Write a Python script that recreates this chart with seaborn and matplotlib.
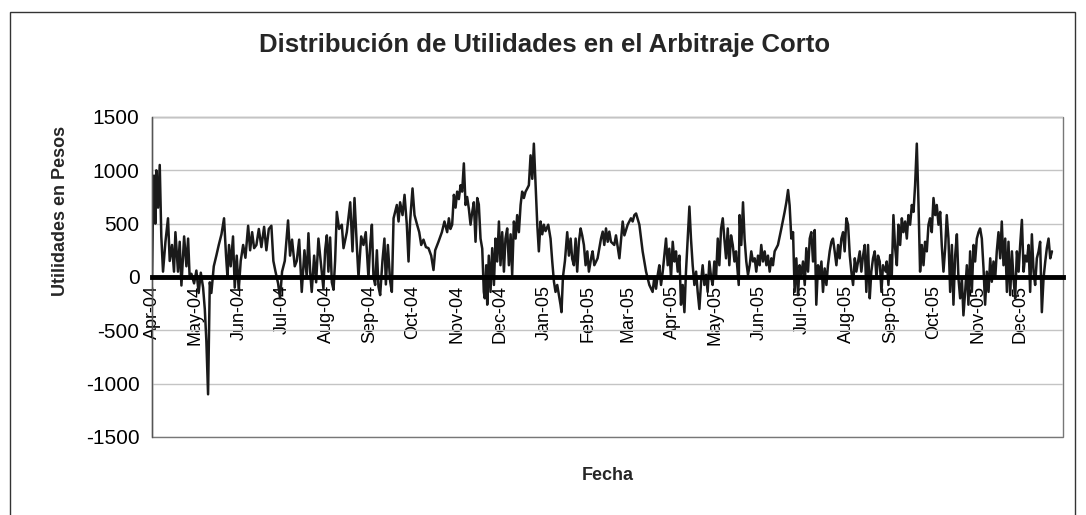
import matplotlib
matplotlib.use("Agg")
import matplotlib.pyplot as plt
import matplotlib.dates as mdates
from matplotlib.patches import Rectangle
import seaborn as sns
import pandas as pd

inicio = pd.Timestamp("2004-04-01")
fin = pd.Timestamp("2005-12-31")

# dias desde el 1-abr-2004
dias = [
    # abr - jul 2004
    0, 0.7, 1.4, 2.3, 3, 4.2, 5.4, 6.5, 7.7, 9.4, 11.2, 12.4, 14, 15.4, 16.4, 18.2, 19.4, 20.6,
    22.5, 24.1, 25.3, 26.4, 27.6, 29.5, 31.1, 32.7, 34.2, 35.8, 37, 38.1, 39.3, 40.5, 41.6, 43.3,
    45.1, 46.8, 48.7, 50.5, 51.9, 52.9, 54, 55.2, 56.8, 58, 59.4, 60.8, 62.2, 63.9, 65.5, 67.4,
    68.8, 70.2, 71.6, 73.2, 74.9, 76.7, 78.6, 80.2, 81.9, 83.7, 85.1, 86.6, 88.4, 89.8, 91.2,
    93.1, 95.4, 96.8, 98.2, 100.1,
    # jul - oct 2004
    101.5, 103.2, 105, 106.9, 108.5, 109.7, 110.9, 112, 113.7, 115.1, 116.7, 118.6, 120.2, 121.4,
    122.6, 123.7, 124.9, 126.1, 127.3, 128.4, 129.6, 131.2, 133.1, 134.3, 136.6, 139, 140.6, 142,
    143.6, 144.8, 146.7, 148.3, 149.9, 151.8, 153, 154.2, 155.3, 156.5, 157.7, 158.8, 160, 161.6,
    163, 164, 165.4, 167, 168.2, 169.4, 171.7, 172.9, 174, 175.7, 177.1, 178.7, 179.9, 181, 182.7,
    184.1, 185.7, 187.4, 188.8, 190.4, 192.1, 193.9, 195.8, 197.4, 198.6, 200.9, 203.3, 205.1,
    # oct 2004 - feb 2005
    207, 208.2, 209.3, 210.5, 211.7, 212.9, 214, 215.2, 216.4, 217.5, 218.7, 219.9, 221, 222.2,
    223.4, 224.6, 225.7, 226.9, 228.1, 229.2, 230.4, 231.6, 232.7, 233.4, 234.4, 235.1, 236.2,
    237.4, 238.6, 239.8, 240.9, 242.1, 243.3, 244.4, 245.6, 246.8, 247.9, 249.1, 250.3, 251.5,
    252.6, 253.8, 255, 256.1, 257.3, 258.5, 259.6, 260.8, 262, 263.2, 264.3, 265.5, 266.7, 267.8,
    269, 270.2, 271.3, 272.5, 273.7, 274.8, 276, 277.9, 279.5, 280.7, 281.9, 283, 284.2, 285.4,
    286.5, 287.2, 288.2, 289.6, 291.2, 292.4, 293.6, 294.7, 295.9, 297.1, 298.2, 299.4, 300.6,
    301.7, 302.9, 304.1, 305.3, 306.4, 308.3,
    # feb - may 2005
    309, 310.2, 312.5, 314.9, 316.1, 317.2, 318.4, 319.6, 320.7, 321.9, 324.2, 325.4, 327.8, 330.1,
    331.3, 333.6, 335.9, 337.1, 338.3, 339.5, 341.8, 344.1, 346.5, 348.8, 351.1, 352.3, 353.5,
    354.7, 355.8, 357, 358.2, 360.5, 361.7, 362.8, 364, 365.2, 366.4, 367.5, 368.7, 369.9, 371,
    372.2, 373.4, 374.5, 375.7, 376.9, 378, 379.2, 380.4, 381.6, 382.7, 383.9, 385.1, 386.2, 387.4,
    388.6, 389.7, 390.9, 392.1, 393.2, 394.4, 395.6, 396.8, 397.9, 399.1, 400.3, 401.4, 402.6,
    403.8, 404.9, 406.1, 407.3, 408.5, 409.6, 411.5,
    # may - ago 2005
    412.1, 413.3, 414.5, 415.6, 416.8, 418, 419.2, 420.3, 421.5, 422.7, 423.8, 425, 426.2, 427.3,
    428.5, 429.7, 430.9, 432, 433.2, 434.4, 435.5, 436.7, 439, 441.4, 443.7, 444.9, 446.1, 447.2,
    448.4, 449.6, 450.7, 451.9, 453.1, 454.2, 455.4, 456.6, 457.8, 458.9, 460.1, 461.3, 462.4,
    463.6, 464.8, 465.9, 467.1, 468.3, 469.5, 470.6, 471.8, 473, 474.1, 475.3, 476.5, 477.6, 478.8,
    480, 481.2, 482.3, 483.5, 484.7, 485.8, 487, 488.2, 489.4, 490.5, 491.7, 492.9, 494, 495.2,
    496.4, 497.5, 498.7, 499.9, 501, 502.2, 503.4, 504.5, 505.7, 506.9, 508.1, 509.2, 510.4,
    511.6, 512.7, 514.6,
    # ago - dic 2005
    515.3, 516.5, 517.7, 518.8, 520, 521.2, 522.4, 523.5, 524.7, 525.9, 527, 528.2, 529.4, 530.5,
    531.7, 532.9, 534.1, 535.2, 536.4, 537.6, 538.7, 539.9, 541.1, 542.2, 543.4, 544.6, 545.7,
    546.9, 548.1, 549.3, 550.4, 551.6, 552.8, 553.9, 555.1, 556.3, 557.4, 558.6, 559.8, 561, 562.1,
    563.3, 564.5, 565.6, 566.8, 568, 569.1, 570.3, 571.5, 572.6, 573.8, 575, 576.2, 577.3, 578.5,
    579.7, 580.8, 582, 583.2, 584.3, 585.5, 586.7, 587.9, 589, 590.2, 591.4, 592.5, 593.7, 594.9,
    596, 597.2, 598.4, 599.6, 600.7, 601.9, 603.1, 604.2, 605.4, 606.6, 607.8, 608.9, 610.1,
    611.3, 612.4, 613.6, 614.8, 615.9, 617.1, 618.3, 619.4, 620.6, 621.8, 622.9, 624.1, 625.3,
    626.5, 627.6, 628.8, 630, 631.2,
]

# utilidades en pesos, una por cada dia de arriba
utilidad = [
    # abr - jul 2004
    0, 700, 950, 500, 1000, 650, 1050, 380, 50, 330, 550, 150, 300, 50, 420, 50, 330, -80,
    380, 100, 360, -10, 30, -60, 60, -150, 40, -100, -300, -600, -1100, -50, -150, 100,
    200, 300, 400, 550, 200, 0, 300, 100, 380, -100, 200, -120, 150, 300, 180, 480,
    250, 420, 270, 300, 450, 280, 470, 250, 450, 480, 150, 50, -60, -200, 50,
    150, 530, 200, 350, 100,
    # jul - oct 2004
    150, 350, -140, 250, 0, 410, 50, -140, 200, -50, 360, 100, -110, 250,
    390, 50, 370, -50, -120, 150, 610, 450, 490, 270, 420, 700, 240, 740,
    300, 0, 380, 300, 420, -10, 300, 490, 0, -75, 250, -90, -170, 150,
    360, -70, 300, -40, -140, 550, 675, 520, 700, 580, 770, 490, 145, 520, 830,
    580, 500, 420, 300, 350, 280, 270, 200, 65, 250, 330, 420, 520,
    # oct 2004 - feb 2005
    420, 550, 450, 490, 770, 650, 800, 730, 860, 800, 1065, 675, 750, 640,
    490, 610, 700, 330, 740, 680, 360, 265, -140, -200, 110, -260, 200,
    -140, 270, -75, 360, 145, 520, 110, 420, 50, 360, 455, 110, 400,
    20, 520, 360, 580, 420, 675, 800, 740, 800, 830, 860, 1140, 920, 1250,
    860, 490, 240, 520, 400, 490, 430, 490, 360, 145, -45, -140, -75, -170,
    -260, -330, 0, 150, 420, 200, 360, 170, 110, 360, 50, 330, 455,
    390, 300, 110, 240, 50, 200,
    # feb - may 2005
    240, 110, 175, 360, 425, 300, 455, 330, 425, 330, 300, 390, 175, 520,
    390, 490, 550, 520, 580, 595, 490, 240, 50, -75, -140, 0, -110,
    20, 110, -75, 50, 360, 110, 265, -10, 330, 145, 240, 50, 200, -260,
    -75, -330, 50, 360, 660, 360, 110, -75, 50, -140, -300, -45, 110, -75,
    20, -140, 145, 0, -75, 145, 0, 360, 110, 450, 550, 360, 175,
    455, 110, 390, 300, 145, 240, -75,
    # may - ago 2005
    580, 300, 700, 360, 145, 20, 110, 240, 145, 175, 50, 200, 110, 300,
    145, 240, 110, 200, 50, 175, 110, 240, 300, 455, 610, 700, 815, 670,
    360, 420, -140, 175, -170, 110, 20, 145, -75, 270, 50, 360, 420,
    145, 440, -260, 110, -10, 145, -140, 80, -75, 110, 240, 330, 360, 240,
    110, 300, 175, 360, 420, 240, 550, 490, 200, 50, -75, 175, 50, 145,
    240, 50, 200, 300, -140, 300, -200, 50, 175, 240, -10, 200, 145,
    -140, 110, 50,
    # ago - dic 2005
    145, -75, 205, -10, 580, 270, 110, 490, 300, 550, 420, 520, 360, 580,
    490, 675, 610, 860, 1250, 675, 50, 300, 110, 330, 240, 490, 550,
    420, 740, 580, 675, 490, 610, 300, 50, 270, 580, 360, -140, 300, -260,
    200, 400, -10, -200, -10, -360, -140, 110, -260, 240, -140, 300, 145, 360,
    420, 455, 360, 80, -260, 50, -140, 175, -45, 145, -10, 240, 420, 175,
    520, 110, 360, -140, 330, -170, 240, -10, -200, 240, 50, 300, 535,
    50, 200, 145, 300, -140, 400, 50, -75, 175, 240, 330, -330, -10,
    145, 270, 360, 175, 240,
]

valores_y = [-1500, -1000, -500, 0, 500, 1000, 1500]

df = pd.DataFrame({
    "fecha": inicio + pd.to_timedelta(dias, unit="D"),
    "utilidad": utilidad,
})

sns.set_theme(style="white")
plt.rcParams["font.family"] = ["Liberation Sans", "DejaVu Sans"]
plt.rcParams["axes.unicode_minus"] = False

fig = plt.figure(figsize=(10.86, 5.15), dpi=100)
ax = fig.add_axes([0.14, 0.1515, 0.8389, 0.6214])

sns.lineplot(data=df, x="fecha", y="utilidad", ax=ax, color="#1a1a1a",
             lw=1.8, estimator=None)

ax.set_ylim(-1500, 1500)
ax.set_yticks(valores_y)
ax.set_xlim(inicio, fin)
ax.xaxis.set_major_locator(mdates.MonthLocator())
ax.xaxis.set_major_formatter(mdates.DateFormatter("%b-%y"))

ax.yaxis.grid(True, color="#c4c4c4", lw=1)
ax.set_axisbelow(True)

# eje de fechas cruzando en cero, grueso como en excel
for s in ["top", "right"]:
    ax.spines[s].set_visible(False)
ax.spines["left"].set_color("#555555")
ax.spines["left"].set_linewidth(1)
ax.spines["bottom"].set_position(("data", 0))
ax.spines["bottom"].set_color("black")
ax.spines["bottom"].set_linewidth(3.5)
ax.add_patch(Rectangle((0, 0), 1, 1, transform=ax.transAxes, fill=False,
                       ec="#777777", lw=1, clip_on=False, zorder=0))

ax.tick_params(axis="y", direction="out", length=5, width=1, color="#555555",
               labelsize=15, pad=4, labelcolor="black")
ax.tick_params(axis="x", direction="inout", length=7, width=3, color="black",
               labelsize=13, pad=2, labelrotation=90, labelcolor="black")

ax.set_xlabel("Fecha", fontsize=13, fontweight="bold")
ax.xaxis.set_label_coords(0.5, -0.119)
ax.xaxis.label.set_verticalalignment("center")
ax.set_ylabel("Utilidades en Pesos", fontsize=13, fontweight="bold")
ax.yaxis.set_label_coords(-0.101, 0.706)
ax.yaxis.label.set_verticalalignment("center")

fig.text(545 / 1086, 1 - 45 / 515, "Distribución de Utilidades en el Arbitraje Corto",
         ha="center", va="center", fontsize=18.5, fontweight="bold")

# marco exterior del grafico
fig.patches.append(Rectangle((10 / 1086, -0.01), 1065 / 1086, (515 - 12) / 515 + 0.01,
                             transform=fig.transFigure, fill=False, ec="#333333", lw=1))

fig.savefig("out.png", dpi=100)
